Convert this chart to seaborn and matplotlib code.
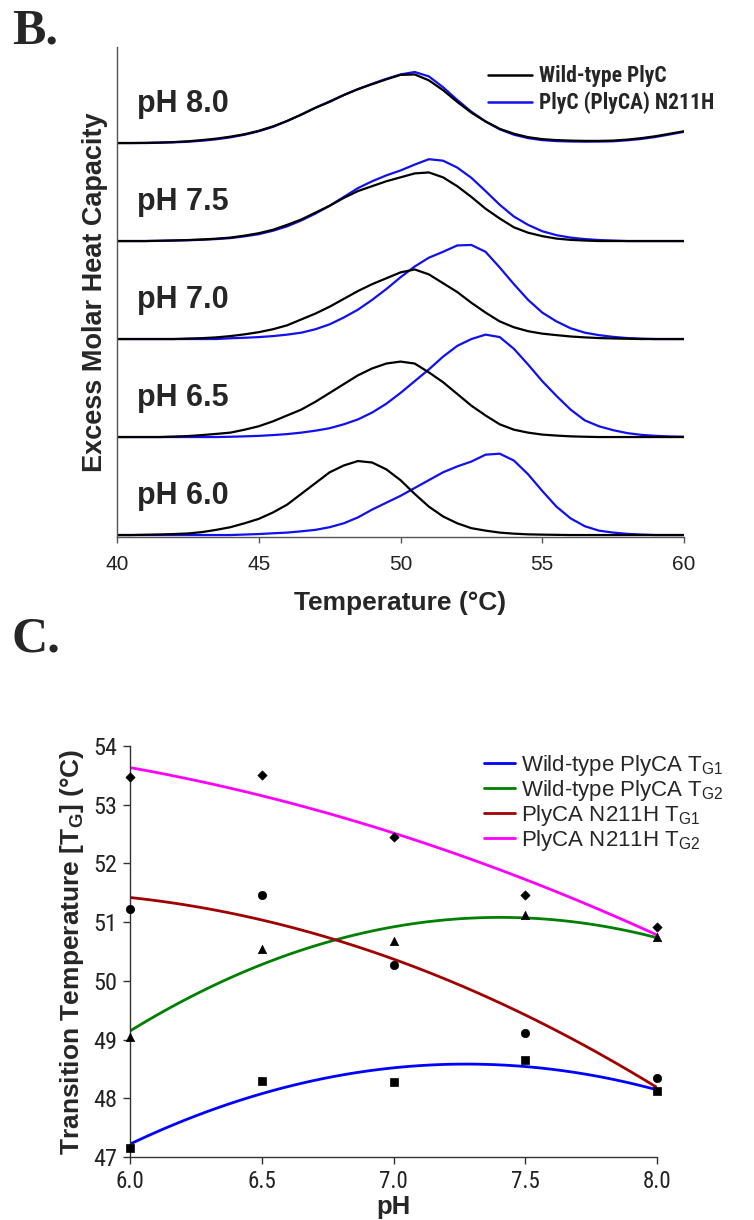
import numpy as np
import pandas as pd
import matplotlib
matplotlib.use("Agg")
import matplotlib.pyplot as plt
from matplotlib import font_manager
from matplotlib.lines import Line2D
import seaborn as sns

# ---------------- Panel B: DSC traces (height above each baseline, in stack units) ----------------
temperature = np.linspace(40, 60, 41)          # 40 .. 60 degC every 0.5 degC
ph_levels = ["pH 6.0", "pH 6.5", "pH 7.0", "pH 7.5", "pH 8.0"]

wt_60 = [0, 0, 0.003, 0.006, 0.01, 0.016, 0.03, 0.053, 0.08, 0.12, 0.165, 0.23, 0.31, 0.42, 0.53,
         0.64, 0.71, 0.755, 0.74, 0.67, 0.56, 0.42, 0.29, 0.19, 0.12, 0.07, 0.045, 0.025, 0.014,
         0.007, 0.004, 0.002, 0, 0, 0, 0, 0, 0, 0, 0, 0]
mut_60 = [0, 0, 0, 0, 0, 0, 0, 0, 0, 0.005, 0.01, 0.018, 0.025, 0.038, 0.053, 0.08, 0.12, 0.18,
          0.26, 0.33, 0.40, 0.48, 0.56, 0.64, 0.70, 0.75, 0.82, 0.83, 0.76, 0.62, 0.45, 0.29, 0.17,
          0.09, 0.045, 0.025, 0.012, 0.005, 0, 0, 0]
wt_65 = [0, 0, 0, 0, 0.005, 0.01, 0.02, 0.032, 0.045, 0.075, 0.11, 0.16, 0.22, 0.28, 0.36, 0.45,
         0.54, 0.63, 0.70, 0.75, 0.77, 0.75, 0.66, 0.56, 0.44, 0.32, 0.22, 0.13, 0.075, 0.045,
         0.025, 0.015, 0.007, 0.003, 0, 0, 0, 0, 0, 0, 0]
mut_65 = [0, 0, 0, 0, 0, 0, 0, 0, 0.003, 0.007, 0.012, 0.02, 0.03, 0.045, 0.065, 0.09, 0.13, 0.18,
          0.25, 0.34, 0.45, 0.57, 0.69, 0.82, 0.93, 1.0, 1.045, 1.02, 0.90, 0.74, 0.57, 0.42, 0.28,
          0.17, 0.11, 0.07, 0.04, 0.022, 0.012, 0.006, 0.003]
wt_70 = [0, 0, 0, 0, 0, 0.005, 0.009, 0.017, 0.03, 0.048, 0.07, 0.10, 0.14, 0.20, 0.26, 0.33,
         0.41, 0.49, 0.56, 0.62, 0.68, 0.71, 0.66, 0.57, 0.48, 0.37, 0.27, 0.18, 0.12, 0.08,
         0.055, 0.04, 0.026, 0.017, 0.01, 0.006, 0.003, 0, 0, 0, 0]
mut_70 = [0, 0, 0, 0, 0, 0, 0, 0, 0.008, 0.013, 0.02, 0.03, 0.045, 0.065, 0.10, 0.15, 0.22, 0.30,
          0.40, 0.51, 0.63, 0.74, 0.83, 0.89, 0.955, 0.96, 0.89, 0.73, 0.56, 0.40, 0.27, 0.18,
          0.11, 0.065, 0.04, 0.022, 0.01, 0.004, 0, 0, 0]
wt_75 = [0, 0, 0, 0.003, 0.006, 0.01, 0.016, 0.024, 0.035, 0.055, 0.08, 0.115, 0.165, 0.22, 0.29,
         0.36, 0.44, 0.51, 0.56, 0.61, 0.65, 0.69, 0.70, 0.65, 0.56, 0.45, 0.33, 0.23, 0.14, 0.085,
         0.05, 0.025, 0.012, 0.005, 0, 0, 0, 0, 0, 0, 0]
mut_75 = [0, 0, 0, 0.002, 0.005, 0.008, 0.013, 0.02, 0.03, 0.048, 0.07, 0.105, 0.15, 0.21, 0.28,
          0.36, 0.45, 0.54, 0.61, 0.67, 0.72, 0.78, 0.835, 0.82, 0.75, 0.645, 0.51, 0.37, 0.25,
          0.165, 0.10, 0.06, 0.035, 0.02, 0.01, 0.005, 0, 0, 0, 0, 0]
wt_80 = [0, 0, 0.002, 0.005, 0.01, 0.018, 0.03, 0.045, 0.065, 0.09, 0.125, 0.17, 0.225, 0.29, 0.36,
         0.42, 0.49, 0.55, 0.60, 0.65, 0.695, 0.70, 0.64, 0.54, 0.42, 0.31, 0.22, 0.145, 0.095,
         0.06, 0.04, 0.03, 0.025, 0.022, 0.022, 0.025, 0.035, 0.05, 0.07, 0.095, 0.12]
mut_80 = [0, 0, 0, 0.003, 0.007, 0.013, 0.024, 0.038, 0.058, 0.085, 0.12, 0.165, 0.225, 0.29, 0.36,
          0.425, 0.49, 0.55, 0.605, 0.655, 0.70, 0.725, 0.68, 0.57, 0.44, 0.32, 0.22, 0.14, 0.085,
          0.05, 0.03, 0.02, 0.016, 0.014, 0.015, 0.018, 0.028, 0.042, 0.062, 0.088, 0.115]

wt_curves = [wt_60, wt_65, wt_70, wt_75, wt_80]
mut_curves = [mut_60, mut_65, mut_70, mut_75, mut_80]
legend_b = ["Wild-type PlyC", "PlyC (PlyCA) N211H"]

# ---------------- Panel C: transition temperatures ----------------
ph = [6.0, 6.5, 7.0, 7.5, 8.0]
wt_tg1 = [47.15, 48.30, 48.27, 48.65, 48.13]
wt_tg2 = [49.05, 50.55, 50.68, 51.12, 50.75]
mut_tg1 = [51.22, 51.47, 50.27, 49.12, 48.35]
mut_tg2 = [53.47, 53.50, 52.45, 51.47, 50.92]
series_c = [r"Wild-type PlyCA T$_{G1}$", r"Wild-type PlyCA T$_{G2}$",
            r"PlyCA N211H T$_{G1}$", r"PlyCA N211H T$_{G2}$"]
ph_ticks = [6.0, 6.5, 7.0, 7.5, 8.0]
tg_ticks = [47, 48, 49, 50, 51, 52, 53, 54]
temp_ticks = [40, 45, 50, 55, 60]

# ---------------- style ----------------
sns.set_theme(style="white")


def _has(name):
    try:
        font_manager.findfont(font_manager.FontProperties(family=name), fallback_to_default=False)
        return True
    except Exception:
        return False


NARROW = None
for cand in ["Liberation Sans Narrow", "Arial Narrow", "Roboto Condensed", "DejaVu Sans Condensed"]:
    if _has(cand):
        NARROW = cand
        break

plt.rcParams["font.family"] = ["Liberation Sans", "DejaVu Sans"]
plt.rcParams.update({
    "mathtext.fontset": "custom",
    "mathtext.rm": "Liberation Sans",
    "mathtext.it": "Liberation Sans:italic",
    "mathtext.bf": "Liberation Sans:bold",
    "mathtext.sf": "Liberation Sans",
    "mathtext.default": "regular",
})

fig = plt.figure(figsize=(7.54, 12.20), dpi=100)
W, H = 754.0, 1220.0
axB = fig.add_axes([117 / W, 1 - 537 / H, 567 / W, 490 / H])
axC = fig.add_axes([130 / W, 1 - 1157 / H, 527 / W, 411 / H])

# ---------------- Panel B ----------------
BLUE = "#1010F0"
for i, (lab, wt, mut) in enumerate(zip(ph_levels, wt_curves, mut_curves)):
    sns.lineplot(x=temperature, y=np.asarray(mut) + i, ax=axB, color=BLUE, lw=1.6)
    sns.lineplot(x=temperature, y=np.asarray(wt) + i, ax=axB, color="black", lw=1.6)
    axB.text(40.7, i + 0.40, lab, fontsize=22, fontweight="bold", ha="left", va="center")

axB.set_xlim(40, 60)
axB.set_ylim(-0.02, 4.98)
axB.set_xticks(temp_ticks)
axB.set_xticklabels([str(t) for t in temp_ticks])
axB.set_yticks([])
for s in ["top", "right"]:
    axB.spines[s].set_visible(False)
for s in ["left", "bottom"]:
    axB.spines[s].set_color("#555555")
    axB.spines[s].set_linewidth(1.0)
axB.tick_params(axis="x", direction="out", length=4, width=1, color="#555555",
                labelsize=15, pad=9, bottom=True, labelcolor="#222222")
axB.set_xlabel("Temperature (°C)", fontsize=19, fontweight="bold")
axB.xaxis.set_label_coords(0.5, -0.135)
axB.xaxis.label.set_va("center")
axB.set_ylabel("Excess Molar Heat Capacity", fontsize=19.5, fontweight="bold")
axB.yaxis.set_label_coords(-0.039, 0.5)
axB.yaxis.label.set_va("center")

hb = [Line2D([0], [0], color="black", lw=1.8), Line2D([0], [0], color=BLUE, lw=1.8)]
if NARROW:
    propB = {"family": NARROW, "weight": "bold", "size": 15.5}
else:
    propB = {"weight": "bold", "size": 13.5}
axB.legend(hb, legend_b, loc="upper left", bbox_to_anchor=(0.64, 0.98), frameon=False,
           borderaxespad=0, handlelength=2.0, handletextpad=0.35, labelspacing=0.2,
           prop=propB)

# ---------------- Panel C ----------------
colors_c = ["#0000FF", "#008000", "#A00000", "#FF00FF"]
markers_c = ["s", "^", "o", "D"]
sizes_c = [36, 36, 36, 22]
for yv, col, lab in zip([wt_tg1, wt_tg2, mut_tg1, mut_tg2], colors_c, series_c):
    sns.regplot(x=ph, y=yv, ax=axC, order=2, ci=None, scatter=False, truncate=True,
                line_kws={"color": col, "lw": 2.0}, label=lab)
for yv, mk, sz in zip([wt_tg1, wt_tg2, mut_tg1, mut_tg2], markers_c, sizes_c):
    sns.scatterplot(x=ph, y=yv, ax=axC, marker=mk, s=sz, color="black", edgecolor="black",
                    linewidth=0.5, zorder=4, clip_on=False, legend=False)

axC.set_xlim(6.0, 8.0)
axC.set_ylim(47, 54)
axC.set_xticks(ph_ticks)
axC.set_xticklabels([f"{p:.1f}" for p in ph_ticks])
axC.set_yticks(tg_ticks)
axC.set_yticklabels([str(t) for t in tg_ticks])
for s in ["top", "right"]:
    axC.spines[s].set_visible(False)
for s in ["left", "bottom"]:
    axC.spines[s].set_color("#333333")
    axC.spines[s].set_linewidth(1.0)
tick_kw = dict(direction="out", length=5, width=1, color="#333333",
               left=True, bottom=True, labelcolor="#222222")
if NARROW:
    axC.tick_params(axis="x", labelsize=16.5, labelfontfamily=NARROW, pad=4, **tick_kw)
    axC.tick_params(axis="y", labelsize=17.5, labelfontfamily=NARROW, pad=4, **tick_kw)
else:
    axC.tick_params(axis="x", labelsize=15, pad=4, **tick_kw)
    axC.tick_params(axis="y", labelsize=15, pad=4, **tick_kw)
axC.set_xlabel("pH", fontsize=18.5, fontweight="bold")
axC.xaxis.set_label_coords(0.5, -0.121)
axC.xaxis.label.set_va("center")
axC.set_ylabel(r"Transition Temperature [T$_{\mathbf{G}}$] (°C)", fontsize=19, fontweight="bold")
axC.yaxis.set_label_coords(-0.11, 0.5)
axC.yaxis.label.set_va("center")

hc = [Line2D([0], [0], color=c, lw=2.0) for c in colors_c]
axC.legend(hc, series_c, loc="upper left", bbox_to_anchor=(0.655, 1.005), frameon=False,
           borderaxespad=0, handlelength=1.4, handletextpad=0.25, labelspacing=0.0,
           prop={"size": 16})

# panel letters
fig.text(12 / W, 1 - 32 / H, "B.", fontsize=36, fontweight="bold", family="Liberation Serif",
         ha="left", va="center")
fig.text(12 / W, 1 - 640 / H, "C.", fontsize=36, fontweight="bold", family="Liberation Serif",
         ha="left", va="center")

fig.savefig("out.png", dpi=100)
